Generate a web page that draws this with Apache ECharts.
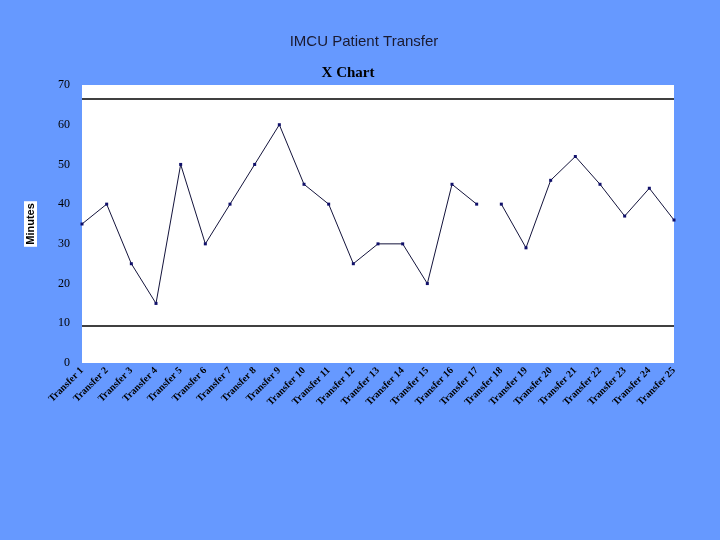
<!DOCTYPE html>
<html>
<head>
<meta charset="utf-8">
<script src="https://cdn.jsdelivr.net/npm/echarts@6/dist/echarts.min.js"></script>
<style>
html,body{margin:0;padding:0;background:#6699ff;}
#chart{width:720px;height:540px;}
</style>
</head>
<body>
<div id="chart"></div>
<script>
var categories = ["Transfer 1","Transfer 2","Transfer 3","Transfer 4","Transfer 5","Transfer 6","Transfer 7","Transfer 8","Transfer 9","Transfer 10","Transfer 11","Transfer 12","Transfer 13","Transfer 14","Transfer 15","Transfer 16","Transfer 17","Transfer 18","Transfer 19","Transfer 20","Transfer 21","Transfer 22","Transfer 23","Transfer 24","Transfer 25"];
var minutes = [35,40,25,15,50,30,40,50,60,45,40,25,30,30,20,45,40,40,29,46,52,45,37,44,36];
var ucl = 66.6;
var lcl = 9.5;
var yTicks = [0,10,20,30,40,50,60,70];

var firstPart = minutes.map(function(v,i){ return i < 17 ? v : '-'; });
var secondPart = minutes.map(function(v,i){ return i >= 17 ? v : '-'; });

var chart = echarts.init(document.getElementById('chart'));
var lineStyle = {color:'#14143c', width:1};
var itemStyle = {color:'#10106a'};
chart.setOption({
  backgroundColor:'#6699ff',
  animation:false,
  title:[
    {text:'IMCU Patient Transfer', left:359, top:29, textAlign:'center',
     textStyle:{fontFamily:'Liberation Sans', fontSize:15, fontWeight:'normal', color:'#1a1a30'}},
    {text:'X Chart', left:343, top:61, textAlign:'center',
     textStyle:{fontFamily:'Liberation Serif', fontSize:15, fontWeight:'bold', color:'#000'}}
  ],
  grid:{left:82, right:46, top:85, bottom:177, show:true, backgroundColor:'#ffffff', borderWidth:0},
  xAxis:{
    type:'category', data:categories, boundaryGap:false,
    axisLine:{show:false}, axisTick:{show:false},
    axisLabel:{rotate:45, interval:0, margin:6, fontFamily:'Liberation Serif', fontSize:10, fontWeight:'bold', color:'#000'}
  },
  yAxis:{
    type:'value', min:yTicks[0], max:yTicks[yTicks.length-1], interval:10,
    splitLine:{show:false}, axisLine:{show:false}, axisTick:{show:false},
    axisLabel:{margin:12, fontFamily:'Liberation Serif', fontSize:12, color:'#000'},
    name:'Minutes', nameLocation:'middle', nameGap:45,
    nameTextStyle:{fontFamily:'Liberation Sans', fontSize:11, fontWeight:'bold', color:'#000', backgroundColor:'#ffffff', padding:[1,2]}
  },
  series:[
    {type:'line', data:firstPart, symbol:'rect', symbolSize:3, showAllSymbol:true,
     lineStyle:lineStyle, itemStyle:itemStyle,
     markLine:{silent:true, symbol:'none', label:{show:false},
       lineStyle:{color:'#000', width:1.5, type:'solid'},
       data:[{yAxis:ucl},{yAxis:lcl}]}},
    {type:'line', data:secondPart, symbol:'rect', symbolSize:3, showAllSymbol:true,
     lineStyle:lineStyle, itemStyle:itemStyle}
  ]
});
</script>
</body>
</html>
